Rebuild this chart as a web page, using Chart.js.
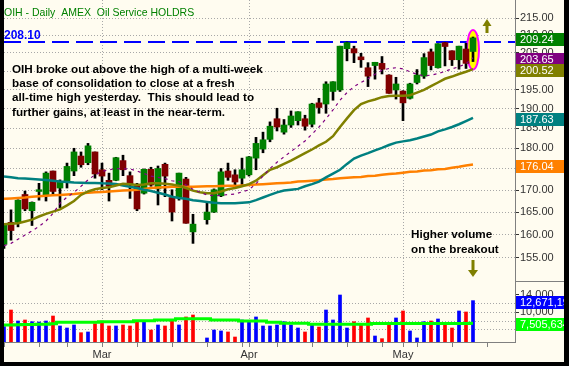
<!DOCTYPE html>
<html>
<head>
<meta charset="utf-8">
<script src="https://cdn.jsdelivr.net/npm/chart.js@4.4.1/dist/chart.umd.min.js"></script>
<style>
  html, body { margin: 0; padding: 0; background: #000; }
  #wrap { position: absolute; left: 4px; top: 0; width: 560px; height: 362px; }
  canvas { background: #FFFCF0; }
</style>
</head>
<body>
<div id="wrap"><canvas id="chart" width="560" height="362"></canvas></div>
<script>
// trading days (Good Friday slot left blank, last 6 are empty space on the right)
const dates = [
  '2008-02-11','2008-02-12','2008-02-13','2008-02-14','2008-02-15',
  '2008-02-19','2008-02-20','2008-02-21','2008-02-22',
  '2008-02-25','2008-02-26','2008-02-27','2008-02-28','2008-02-29',
  '2008-03-03','2008-03-04','2008-03-05','2008-03-06','2008-03-07',
  '2008-03-10','2008-03-11','2008-03-12','2008-03-13','2008-03-14',
  '2008-03-17','2008-03-18','2008-03-19','2008-03-20','2008-03-21',
  '2008-03-24','2008-03-25','2008-03-26','2008-03-27','2008-03-28',
  '2008-03-31',
  '2008-04-01','2008-04-02','2008-04-03','2008-04-04',
  '2008-04-07','2008-04-08','2008-04-09','2008-04-10','2008-04-11',
  '2008-04-14','2008-04-15','2008-04-16','2008-04-17','2008-04-18',
  '2008-04-21','2008-04-22','2008-04-23','2008-04-24','2008-04-25',
  '2008-04-28','2008-04-29','2008-04-30',
  '2008-05-01','2008-05-02',
  '2008-05-05','2008-05-06','2008-05-07','2008-05-08','2008-05-09',
  '2008-05-12','2008-05-13','2008-05-14','2008-05-15',
  '2008-05-16','2008-05-19','2008-05-20','2008-05-21','2008-05-22','2008-05-23'
]
const monthNames = { '02': 'Feb', '03': 'Mar', '04': 'Apr', '05': 'May' }

const open = [157.9,162.7,162.7,169.0,165.3,169.7,168.7,174.5,170.5,171.9,
  174.5,178.1,176.5,179.1,174.8,172.3,172.3,177.0,173.4,170.9,
  169.3,174.9,170.3,176.1,168.3,168.5,172.6,160.6,null,163.3,
  165.0,168.7,174.5,173.6,172.8,173.6,177.6,179.8,182.2,187.4,
  184.0,185.8,186.9,187.4,186.0,191.5,191.2,194.5,194.9,206.2,
  206.2,203.9,200.9,201.5,202.1,198.9,194.9,194.6,192.7,196.9,
  198.6,205.3,200.9,207.9,205.6,203.1,206.1,205.4]
const high = [162.5,165.5,167.8,169.8,167.3,171.6,174.3,174.5,172.4,176.4,
  180.0,179.1,181.2,179.1,176.4,174.0,177.8,178.3,174.3,171.6,
  175.0,175.4,175.7,176.4,170.1,174.0,173.0,164.5,null,167.0,
  170.3,175.1,176.4,174.8,177.6,178.0,182.7,184.0,186.6,190.1,
  187.2,189.4,189.2,188.3,191.4,192.7,197.1,197.1,206.9,208.1,
  206.9,204.9,202.3,202.4,204.0,199.0,198.3,194.7,196.7,200.4,
  204.8,206.1,207.6,208.0,205.6,206.9,207.7,209.5]
const low = [157.0,158.8,161.7,165.3,162.0,167.7,167.5,168.9,166.0,170.5,
  173.4,175.4,176.0,172.8,170.1,167.5,172.2,173.4,168.1,165.3,
  169.1,170.9,166.6,168.5,163.0,167.7,162.5,158.1,null,162.3,
  164.9,168.5,172.3,170.9,171.2,173.3,174.8,178.9,181.6,184.3,
  183.5,185.2,185.8,184.5,185.3,188.8,188.8,192.2,194.5,202.8,
  202.3,201.0,195.8,197.8,199.2,194.0,192.5,186.9,192.5,196.5,
  198.0,200.3,200.8,201.4,201.5,200.5,200.7,202.6]
const close = [162.3,160.9,167.7,165.7,167.2,170.1,174.0,169.7,171.9,175.6,
  179.1,176.0,180.6,173.8,173.3,170.9,177.7,174.8,171.2,165.7,
  174.9,171.2,175.1,173.3,165.0,174.0,162.5,162.3,null,165.0,
  170.1,174.3,173.0,171.9,174.8,177.9,181.2,182.1,185.5,185.3,
  185.8,188.1,189.2,185.5,191.2,190.3,196.5,197.1,206.9,207.9,
  205.0,203.1,198.6,202.4,200.5,194.0,196.5,191.5,196.5,198.9,
  203.7,201.5,207.6,206.8,203.1,206.9,202.1,209.24]

// moving averages
const sma10 = [157.6,158.1,159.0,159.9,160.8,161.8,163.0,164.7,167.0,168.4,
  169.5,170.9,172.4,173.6,174.4,174.8,175.1,175.0,175.0,174.5,
  173.9,173.3,173.0,172.7,172.2,172.0,171.2,170.2,169.5,168.9,
  168.7,168.8,169.0,169.1,169.6,170.1,171.5,173.3,175.1,176.6,
  177.9,179.2,180.5,181.8,183.5,185.3,187.4,189.7,192.2,194.2,
  195.8,196.9,197.9,199.1,200.2,200.7,200.9,200.6,199.8,199.1,
  198.7,198.9,199.3,199.9,200.6,201.2,202.0,203.65]
const sma20 = [162.3,162.4,162.5,162.9,163.3,164.0,164.6,165.1,165.6,166.5,
  167.5,168.9,169.7,170.2,170.5,170.7,171.1,171.5,171.4,171.2,
  171.3,171.6,171.6,171.5,171.3,171.0,170.5,169.9,169.5,169.3,
  169.3,169.7,170.2,170.5,170.9,171.4,172.2,173.5,174.8,175.4,
  176.2,177.0,177.9,178.8,179.7,180.7,181.6,183.0,185.3,187.5,
  189.6,191.2,191.9,192.4,193.0,193.3,193.4,193.4,193.5,194.2,
  194.9,195.9,196.9,197.9,198.5,199.2,199.8,200.52]
const sma50 = [173.2,173.0,172.8,172.7,172.6,172.5,172.35,172.2,172.0,171.9,
  171.8,171.75,171.7,171.7,171.6,171.55,171.45,171.1,170.8,170.5,
  170.1,169.8,169.4,169.0,168.5,168.2,168.0,167.7,167.5,167.3,
  167.1,167.0,167.0,167.0,167.1,167.2,167.7,168.3,168.9,169.5,
  169.9,170.1,170.3,170.9,171.4,172.0,173.0,173.9,174.8,176.2,
  177.5,178.2,178.8,179.5,180.1,180.8,181.4,181.7,182.0,182.4,
  182.9,183.4,184.2,184.7,185.3,186.0,186.8,187.63]
const sma200 = [168.0,168.1,168.2,168.3,168.5,168.6,168.7,168.8,168.9,169.0,
  169.1,169.3,169.4,169.5,169.6,169.7,169.8,169.9,170.0,170.1,
  170.3,170.5,170.6,170.7,170.8,170.8,170.8,170.8,170.85,170.9,
  170.9,170.95,171.0,171.0,171.1,171.2,171.3,171.4,171.5,171.6,
  171.7,171.8,172.0,172.1,172.2,172.3,172.5,172.6,172.8,172.9,
  173.0,173.1,173.3,173.4,173.6,173.8,173.9,174.1,174.3,174.4,
  174.6,174.7,174.9,175.0,175.3,175.5,175.8,176.04]

// volume in millions of shares, direction = close vs previous close
const volume = [6.72,10.53,8.02,8.25,7.86,7.79,8.02,9.16,6.88,6.42,
  7.11,5.35,5.51,7.40,8.02,6.88,6.88,7.11,6.88,8.02,
  7.86,5.96,7.11,6.88,8.32,7.11,8.94,9.39,null,4.14,
  5.96,5.74,5.51,4.36,8.25,8.02,8.94,6.88,6.88,7.11,
  7.86,7.11,6.42,5.51,7.34,6.65,10.53,8.25,13.96,6.42,
  7.86,7.34,8.71,4.59,3.98,7.11,8.71,10.31,5.74,4.14,
  7.86,8.02,8.48,7.11,6.42,10.31,10.08,12.671193]
const volDir = [1,-1,1,-1,1,1,1,-1,1,1,
  1,-1,1,-1,-1,-1,1,-1,-1,-1,
  1,-1,1,-1,-1,1,-1,-1,0,1,
  1,1,-1,-1,1,1,1,1,1,1,
  1,1,1,-1,1,-1,1,1,1,1,
  -1,-1,-1,1,-1,-1,1,-1,1,1,
  1,-1,1,-1,-1,1,-1,1]
const volAvg = [7.1,7.1,7.15,7.2,7.2,7.25,7.3,7.4,7.72,7.72,
  7.72,7.72,7.72,7.72,7.86,7.86,7.86,7.86,7.86,8.09,
  8.09,8.09,8.25,8.25,8.25,8.55,8.55,8.55,8.55,8.55,
  8.25,8.25,8.25,8.25,8.02,8.02,8.02,8.02,7.72,7.72,
  7.5,7.5,7.5,7.5,7.3,7.3,7.3,7.3,7.3,7.3,
  7.3,7.3,7.3,7.45,7.45,7.45,7.45,7.45,7.45,7.45,
  7.45,7.45,7.45,7.45,7.45,7.45,7.45,7.505634]

const priceTicks = [155, 160, 165, 170, 175, 180, 185, 190, 195, 200, 205, 210, 215]
const volTicks = [6, 8, 10, 12, 14]
const volTickText = ['', '', '10,000', '', '14,000']
const highLine = 208.10

const title = 'OIH - Daily  AMEX  Oil Service HOLDRS'
const note = [
  'OIH broke out above the high of a multi-week',
  'base of consolidation to close at a fresh',
  'all-time high yesterday.  This should lead to',
  'further gains, at least in the near-term.'
]
const volNote = ['Higher volume', 'on the breakout']

const FONT = '"Liberation Sans", Arial, sans-serif'
Chart.defaults.font.family = FONT

const last = close.length - 1
const bodies = open.map((o, i) => o == null ? null : [o, close[i]])
const wicks = low.map((l, i) => l == null ? null : [l, high[i]])
const bodyColors = open.map((o, i) => close[i] >= o ? '#008000' : '#800000')
const volColors = volDir.map(d => d > 0 ? '#0000FF' : '#FF0000')

function monthOf(i) { return dates[i].slice(5, 7) }
function isMonthStart(i) { return i > 0 && monthOf(i) !== monthOf(i - 1) }
function isWeekStart(i) {
    if (i === 0) return true
    return new Date(dates[i]).getUTCDay() < new Date(dates[i - 1]).getUTCDay()
}
function noPad(s) { s.paddingTop = 0; s.paddingBottom = 0; s.paddingLeft = 0; s.paddingRight = 0 }

const gridGray = '#a8a8a8'
const tickFont = { size: 11, family: FONT }

const overlay = {
    id: 'overlay',
    beforeDatasetsDraw(chart) {
        const { ctx, chartArea: ca, scales: { x, y } } = chart
        ctx.save()
        // old high line
        const hy = Math.round(y.getPixelForValue(highLine))
        ctx.strokeStyle = '#0000FF'
        ctx.lineWidth = 2
        ctx.setLineDash([17, 7])
        ctx.beginPath()
        ctx.moveTo(ca.left, hy)
        ctx.lineTo(ca.right, hy)
        ctx.stroke()
        ctx.setLineDash([])
        // highlight breakout candle
        const cx = x.getPixelForValue(last)
        const top = y.getPixelForValue(high[last]) - 7
        const bot = y.getPixelForValue(low[last]) + 8
        ctx.beginPath()
        ctx.ellipse(cx, (top + bot) / 2, 6, (bot - top) / 2, 0, 0, Math.PI * 2)
        ctx.fillStyle = '#FFFF00'
        ctx.fill()
        ctx.strokeStyle = '#FF00FF'
        ctx.lineWidth = 2
        ctx.stroke()
        ctx.restore()
    },
    afterDraw(chart) {
        const { ctx, scales: { x, y, vol } } = chart
        ctx.save()
        ctx.textBaseline = 'alphabetic'
        ctx.textAlign = 'left'

        ctx.fillStyle = '#008000'
        ctx.font = '10.5px ' + FONT
        ctx.fillText(title, 0, 16)

        ctx.fillStyle = '#0000FF'
        ctx.font = 'bold 12px ' + FONT
        ctx.fillText(highLine.toFixed(2), 0, 39)

        ctx.fillStyle = '#000'
        ctx.font = 'bold 11.7px ' + FONT
        note.forEach((line, i) => ctx.fillText(line, 8, 73 + i * 14.2))
        volNote.forEach((line, i) => ctx.fillText(line, 407, 238 + i * 15))

        // arrows
        const ax = x.getPixelForValue(last)
        ctx.fillStyle = '#7F7F00'
        ctx.beginPath()
        ctx.moveTo(ax + 14, 19); ctx.lineTo(ax + 18.5, 26); ctx.lineTo(ax + 9.5, 26); ctx.closePath()
        ctx.fill()
        ctx.fillRect(ax + 12.5, 26, 3, 7)
        ctx.fillRect(ax - 1.5, 260, 3, 10)
        ctx.beginPath()
        ctx.moveTo(ax - 5, 270); ctx.lineTo(ax + 5, 270); ctx.lineTo(ax, 277); ctx.closePath()
        ctx.fill()

        // panel separator on the axis
        ctx.strokeStyle = '#808080'
        ctx.lineWidth = 1
        ctx.beginPath()
        ctx.moveTo(vol.left, Math.round(vol.top) + 0.5)
        ctx.lineTo(chart.width, Math.round(vol.top) + 0.5)
        ctx.stroke()

        // last value boxes
        const boxes = [
            [y, close[last], '#008000', close[last].toFixed(2)],
            [y, sma10[last], '#800080', sma10[last].toFixed(2)],
            [y, sma20[last], '#808000', sma20[last].toFixed(2)],
            [y, sma50[last], '#008080', sma50[last].toFixed(2)],
            [y, sma200[last], '#FF8000', sma200[last].toFixed(2)],
            [vol, volume[last], '#0000FF', Math.round(volume[last] * 1e6).toLocaleString('en-US')],
            [vol, volAvg[last], '#00FF00', Math.round(volAvg[last] * 1e6).toLocaleString('en-US')]
        ]
        ctx.font = '11px ' + FONT
        ctx.textBaseline = 'middle'
        boxes.forEach(([scale, v, color, text]) => {
            const py = Math.round(scale.getPixelForValue(v))
            ctx.fillStyle = color
            ctx.fillRect(scale.left + 1, py - 5, chart.width - scale.left, 13)
            ctx.fillStyle = '#FFFFFF'
            ctx.fillText(text, scale.left + 5, py + 1.5)
        })
        ctx.restore()
    }
}

new Chart(document.getElementById('chart'), {
    type: 'bar',
    data: {
        labels: dates,
        datasets: [
            { type: 'line', data: sma10, yAxisID: 'y', borderColor: '#800080', borderWidth: 1.2, borderDash: [3, 4], pointRadius: 0, order: 0 },
            { type: 'line', data: sma20, yAxisID: 'y', borderColor: '#808000', borderWidth: 2.5, pointRadius: 0, order: 0 },
            { type: 'line', data: sma50, yAxisID: 'y', borderColor: '#008080', borderWidth: 2.5, pointRadius: 0, order: 0 },
            { type: 'line', data: sma200, yAxisID: 'y', borderColor: '#FF8000', borderWidth: 2.5, pointRadius: 0, order: 0 },
            { type: 'line', data: volAvg, yAxisID: 'vol', borderColor: '#00FF00', borderWidth: 3, stepped: 'middle', pointRadius: 0, order: 0 },
            { data: bodies, yAxisID: 'y', backgroundColor: bodyColors, barThickness: 6, grouped: false, order: 1 },
            { data: wicks, yAxisID: 'y', backgroundColor: '#000000', barThickness: 2, grouped: false, order: 2 },
            { data: volume, yAxisID: 'vol', backgroundColor: volColors, barThickness: 3, grouped: false, order: 3 }
        ]
    },
    options: {
        responsive: false,
        animation: false,
        devicePixelRatio: 1,
        events: [],
        layout: { padding: 0 },
        plugins: { legend: { display: false }, tooltip: { enabled: false } },
        scales: {
            x: {
                type: 'category',
                offset: false,
                afterBuildTicks: s => { s.ticks = s.ticks.filter(t => isWeekStart(t.value) || isMonthStart(t.value)) },
                afterFit: s => { s.height = 20; noPad(s) },
                ticks: {
                    autoSkip: false, maxRotation: 0, padding: 1, color: '#333', font: tickFont,
                    callback: v => isMonthStart(v) ? monthNames[monthOf(v)] : ''
                },
                grid: {
                    offset: false,
                    color: c => (c.tick && isMonthStart(c.tick.value)) ? gridGray : 'transparent',
                    tickColor: '#808080', tickLength: 5, tickBorderDash: []
                },
                border: { color: '#808080', dash: [1, 2] }
            },
            y: {
                type: 'logarithmic', position: 'right', stack: 'panes', stackWeight: 281,
                min: 150.19, max: 220.35,
                afterBuildTicks: s => { s.ticks = priceTicks.map(v => ({ value: v })) },
                afterFit: s => { s.width = 49; noPad(s) },
                ticks: { autoSkip: false, callback: v => Number(v).toFixed(2), color: '#333', font: tickFont, padding: 1 },
                grid: { color: gridGray, tickColor: '#333', tickLength: 4, tickBorderDash: [] },
                border: { color: '#808080', dash: [1, 2] }
            },
            vol: {
                type: 'linear', position: 'right', stack: 'panes', stackWeight: 61,
                min: 3.22, max: 17.16,
                afterBuildTicks: s => { s.ticks = volTicks.map(v => ({ value: v })) },
                afterFit: s => { s.width = 49; noPad(s) },
                ticks: { autoSkip: false, callback: (v, i) => volTickText[i] || '', color: '#333', font: tickFont, padding: 1 },
                grid: {
                    color: c => (c.tick && c.tick.value < 14) ? gridGray : 'transparent',
                    tickColor: c => (c.tick && volTickText[volTicks.indexOf(c.tick.value)]) ? '#333' : 'transparent',
                    tickLength: 4, tickBorderDash: []
                },
                border: { color: '#808080', dash: [1, 2] }
            }
        }
    },
    plugins: [overlay]
})
</script>
</body>
</html>
